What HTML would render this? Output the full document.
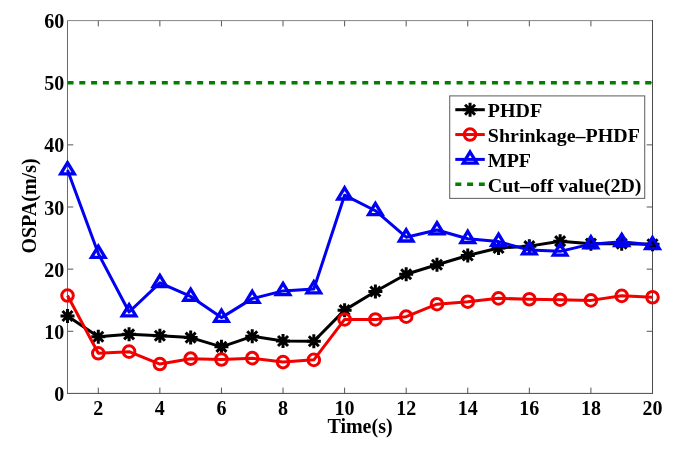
<!DOCTYPE html>
<html><head><meta charset="utf-8"><style>
html,body{margin:0;padding:0;background:#fff;}
svg{display:block;}
svg text{font-family:"Liberation Serif",serif;font-weight:bold;font-size:20px;fill:#000;}
</style></head><body>
<svg style="will-change:transform" width="685" height="452" viewBox="0 0 685 452">
<rect width="685" height="452" fill="#fff"/>
<path d="M98.29 393.4V387.60M98.29 20.6V26.40M159.87 393.4V387.60M159.87 20.6V26.40M221.45 393.4V387.60M221.45 20.6V26.40M283.03 393.4V387.60M283.03 20.6V26.40M344.61 393.4V387.60M344.61 20.6V26.40M406.18 393.4V387.60M406.18 20.6V26.40M467.76 393.4V387.60M467.76 20.6V26.40M529.34 393.4V387.60M529.34 20.6V26.40M590.92 393.4V387.60M590.92 20.6V26.40M652.50 393.4V387.60M652.50 20.6V26.40M67.5 331.27H73.3M652.5 331.27H646.7M67.5 269.13H73.3M652.5 269.13H646.7M67.5 207.00H73.3M652.5 207.00H646.7M67.5 144.87H73.3M652.5 144.87H646.7M67.5 82.73H73.3M652.5 82.73H646.7" stroke="#555555" stroke-width="1"/>
<path d="M67.5 20.6H652.5" stroke="#858585" stroke-width="1"/>
<path d="M67.5 20.6V393.4" stroke="#6a6a6a" stroke-width="1"/>
<path d="M67.0 393.4H653.0" stroke="#4a4a4a" stroke-width="1"/>
<path d="M652.5 20.1V393.4" stroke="#4a4a4a" stroke-width="1"/>
<line x1="67.5" y1="82.73" x2="652.5" y2="82.73" stroke="#007f00" stroke-width="3.6" stroke-dasharray="6 5.79"/>
<polyline points="67.50,315.98 98.29,336.73 129.08,334.37 159.87,335.74 190.66,337.60 221.45,346.86 252.24,336.30 283.03,341.02 313.82,341.21 344.61,310.14 375.39,291.50 406.18,274.23 436.97,264.78 467.76,255.46 498.55,248.01 529.34,246.14 560.13,241.17 590.92,243.66 621.71,243.66 652.50,244.28" stroke="#000" stroke-width="3.0" fill="none" stroke-linejoin="round"/>
<path d="M60.50 315.98H74.50M67.50 308.98V322.98M62.50 310.98L72.50 320.98M62.50 320.98L72.50 310.98" stroke="#000" stroke-width="3.0" fill="none"/>
<path d="M91.29 336.73H105.29M98.29 329.73V343.73M93.29 331.73L103.29 341.73M93.29 341.73L103.29 331.73" stroke="#000" stroke-width="3.0" fill="none"/>
<path d="M122.08 334.37H136.08M129.08 327.37V341.37M124.08 329.37L134.08 339.37M124.08 339.37L134.08 329.37" stroke="#000" stroke-width="3.0" fill="none"/>
<path d="M152.87 335.74H166.87M159.87 328.74V342.74M154.87 330.74L164.87 340.74M154.87 340.74L164.87 330.74" stroke="#000" stroke-width="3.0" fill="none"/>
<path d="M183.66 337.60H197.66M190.66 330.60V344.60M185.66 332.60L195.66 342.60M185.66 342.60L195.66 332.60" stroke="#000" stroke-width="3.0" fill="none"/>
<path d="M214.45 346.86H228.45M221.45 339.86V353.86M216.45 341.86L226.45 351.86M216.45 351.86L226.45 341.86" stroke="#000" stroke-width="3.0" fill="none"/>
<path d="M245.24 336.30H259.24M252.24 329.30V343.30M247.24 331.30L257.24 341.30M247.24 341.30L257.24 331.30" stroke="#000" stroke-width="3.0" fill="none"/>
<path d="M276.03 341.02H290.03M283.03 334.02V348.02M278.03 336.02L288.03 346.02M278.03 346.02L288.03 336.02" stroke="#000" stroke-width="3.0" fill="none"/>
<path d="M306.82 341.21H320.82M313.82 334.21V348.21M308.82 336.21L318.82 346.21M308.82 346.21L318.82 336.21" stroke="#000" stroke-width="3.0" fill="none"/>
<path d="M337.61 310.14H351.61M344.61 303.14V317.14M339.61 305.14L349.61 315.14M339.61 315.14L349.61 305.14" stroke="#000" stroke-width="3.0" fill="none"/>
<path d="M368.39 291.50H382.39M375.39 284.50V298.50M370.39 286.50L380.39 296.50M370.39 296.50L380.39 286.50" stroke="#000" stroke-width="3.0" fill="none"/>
<path d="M399.18 274.23H413.18M406.18 267.23V281.23M401.18 269.23L411.18 279.23M401.18 279.23L411.18 269.23" stroke="#000" stroke-width="3.0" fill="none"/>
<path d="M429.97 264.78H443.97M436.97 257.78V271.78M431.97 259.78L441.97 269.78M431.97 269.78L441.97 259.78" stroke="#000" stroke-width="3.0" fill="none"/>
<path d="M460.76 255.46H474.76M467.76 248.46V262.46M462.76 250.46L472.76 260.46M462.76 260.46L472.76 250.46" stroke="#000" stroke-width="3.0" fill="none"/>
<path d="M491.55 248.01H505.55M498.55 241.01V255.01M493.55 243.01L503.55 253.01M493.55 253.01L503.55 243.01" stroke="#000" stroke-width="3.0" fill="none"/>
<path d="M522.34 246.14H536.34M529.34 239.14V253.14M524.34 241.14L534.34 251.14M524.34 251.14L534.34 241.14" stroke="#000" stroke-width="3.0" fill="none"/>
<path d="M553.13 241.17H567.13M560.13 234.17V248.17M555.13 236.17L565.13 246.17M555.13 246.17L565.13 236.17" stroke="#000" stroke-width="3.0" fill="none"/>
<path d="M583.92 243.66H597.92M590.92 236.66V250.66M585.92 238.66L595.92 248.66M585.92 248.66L595.92 238.66" stroke="#000" stroke-width="3.0" fill="none"/>
<path d="M614.71 243.66H628.71M621.71 236.66V250.66M616.71 238.66L626.71 248.66M616.71 248.66L626.71 238.66" stroke="#000" stroke-width="3.0" fill="none"/>
<path d="M645.50 244.28H659.50M652.50 237.28V251.28M647.50 239.28L657.50 249.28M647.50 249.28L657.50 239.28" stroke="#000" stroke-width="3.0" fill="none"/>
<polyline points="67.50,295.54 98.29,353.32 129.08,351.65 159.87,364.07 190.66,358.67 221.45,359.48 252.24,358.17 283.03,362.08 313.82,359.85 344.61,319.46 375.39,319.46 406.18,316.67 436.97,304.18 467.76,301.69 498.55,298.34 529.34,299.27 560.13,299.70 590.92,300.39 621.71,295.85 652.50,297.28" stroke="#f20000" stroke-width="3.0" fill="none" stroke-linejoin="round"/>
<circle cx="67.50" cy="295.54" r="5.8" stroke="#f20000" stroke-width="3.0" fill="none"/>
<circle cx="98.29" cy="353.32" r="5.8" stroke="#f20000" stroke-width="3.0" fill="none"/>
<circle cx="129.08" cy="351.65" r="5.8" stroke="#f20000" stroke-width="3.0" fill="none"/>
<circle cx="159.87" cy="364.07" r="5.8" stroke="#f20000" stroke-width="3.0" fill="none"/>
<circle cx="190.66" cy="358.67" r="5.8" stroke="#f20000" stroke-width="3.0" fill="none"/>
<circle cx="221.45" cy="359.48" r="5.8" stroke="#f20000" stroke-width="3.0" fill="none"/>
<circle cx="252.24" cy="358.17" r="5.8" stroke="#f20000" stroke-width="3.0" fill="none"/>
<circle cx="283.03" cy="362.08" r="5.8" stroke="#f20000" stroke-width="3.0" fill="none"/>
<circle cx="313.82" cy="359.85" r="5.8" stroke="#f20000" stroke-width="3.0" fill="none"/>
<circle cx="344.61" cy="319.46" r="5.8" stroke="#f20000" stroke-width="3.0" fill="none"/>
<circle cx="375.39" cy="319.46" r="5.8" stroke="#f20000" stroke-width="3.0" fill="none"/>
<circle cx="406.18" cy="316.67" r="5.8" stroke="#f20000" stroke-width="3.0" fill="none"/>
<circle cx="436.97" cy="304.18" r="5.8" stroke="#f20000" stroke-width="3.0" fill="none"/>
<circle cx="467.76" cy="301.69" r="5.8" stroke="#f20000" stroke-width="3.0" fill="none"/>
<circle cx="498.55" cy="298.34" r="5.8" stroke="#f20000" stroke-width="3.0" fill="none"/>
<circle cx="529.34" cy="299.27" r="5.8" stroke="#f20000" stroke-width="3.0" fill="none"/>
<circle cx="560.13" cy="299.70" r="5.8" stroke="#f20000" stroke-width="3.0" fill="none"/>
<circle cx="590.92" cy="300.39" r="5.8" stroke="#f20000" stroke-width="3.0" fill="none"/>
<circle cx="621.71" cy="295.85" r="5.8" stroke="#f20000" stroke-width="3.0" fill="none"/>
<circle cx="652.50" cy="297.28" r="5.8" stroke="#f20000" stroke-width="3.0" fill="none"/>
<polyline points="67.50,170.03 98.29,253.60 129.08,312.01 159.87,282.80 190.66,296.47 221.45,317.60 252.24,298.65 283.03,290.88 313.82,289.02 344.61,195.19 375.39,210.73 406.18,237.20 436.97,229.99 467.76,238.69 498.55,241.61 529.34,250.12 560.13,251.36 590.92,244.16 621.71,241.79 652.50,244.90" stroke="#0000f2" stroke-width="3.0" fill="none" stroke-linejoin="round"/>
<path d="M67.50 162.63L74.30 173.83L60.70 173.83Z" stroke="#0000f2" stroke-width="3.3" fill="none" stroke-linejoin="miter"/>
<path d="M98.29 246.20L105.09 257.40L91.49 257.40Z" stroke="#0000f2" stroke-width="3.3" fill="none" stroke-linejoin="miter"/>
<path d="M129.08 304.61L135.88 315.81L122.28 315.81Z" stroke="#0000f2" stroke-width="3.3" fill="none" stroke-linejoin="miter"/>
<path d="M159.87 275.40L166.67 286.60L153.07 286.60Z" stroke="#0000f2" stroke-width="3.3" fill="none" stroke-linejoin="miter"/>
<path d="M190.66 289.07L197.46 300.27L183.86 300.27Z" stroke="#0000f2" stroke-width="3.3" fill="none" stroke-linejoin="miter"/>
<path d="M221.45 310.20L228.25 321.40L214.65 321.40Z" stroke="#0000f2" stroke-width="3.3" fill="none" stroke-linejoin="miter"/>
<path d="M252.24 291.25L259.04 302.45L245.44 302.45Z" stroke="#0000f2" stroke-width="3.3" fill="none" stroke-linejoin="miter"/>
<path d="M283.03 283.48L289.83 294.68L276.23 294.68Z" stroke="#0000f2" stroke-width="3.3" fill="none" stroke-linejoin="miter"/>
<path d="M313.82 281.62L320.62 292.82L307.02 292.82Z" stroke="#0000f2" stroke-width="3.3" fill="none" stroke-linejoin="miter"/>
<path d="M344.61 187.79L351.41 198.99L337.81 198.99Z" stroke="#0000f2" stroke-width="3.3" fill="none" stroke-linejoin="miter"/>
<path d="M375.39 203.33L382.19 214.53L368.59 214.53Z" stroke="#0000f2" stroke-width="3.3" fill="none" stroke-linejoin="miter"/>
<path d="M406.18 229.80L412.98 241.00L399.38 241.00Z" stroke="#0000f2" stroke-width="3.3" fill="none" stroke-linejoin="miter"/>
<path d="M436.97 222.59L443.77 233.79L430.17 233.79Z" stroke="#0000f2" stroke-width="3.3" fill="none" stroke-linejoin="miter"/>
<path d="M467.76 231.29L474.56 242.49L460.96 242.49Z" stroke="#0000f2" stroke-width="3.3" fill="none" stroke-linejoin="miter"/>
<path d="M498.55 234.21L505.35 245.41L491.75 245.41Z" stroke="#0000f2" stroke-width="3.3" fill="none" stroke-linejoin="miter"/>
<path d="M529.34 242.72L536.14 253.92L522.54 253.92Z" stroke="#0000f2" stroke-width="3.3" fill="none" stroke-linejoin="miter"/>
<path d="M560.13 243.96L566.93 255.16L553.33 255.16Z" stroke="#0000f2" stroke-width="3.3" fill="none" stroke-linejoin="miter"/>
<path d="M590.92 236.76L597.72 247.96L584.12 247.96Z" stroke="#0000f2" stroke-width="3.3" fill="none" stroke-linejoin="miter"/>
<path d="M621.71 234.39L628.51 245.59L614.91 245.59Z" stroke="#0000f2" stroke-width="3.3" fill="none" stroke-linejoin="miter"/>
<path d="M652.50 237.50L659.30 248.70L645.70 248.70Z" stroke="#0000f2" stroke-width="3.3" fill="none" stroke-linejoin="miter"/>
<text x="98.29" y="414.7" text-anchor="middle">2</text>
<text x="159.87" y="414.7" text-anchor="middle">4</text>
<text x="221.45" y="414.7" text-anchor="middle">6</text>
<text x="283.03" y="414.7" text-anchor="middle">8</text>
<text x="344.61" y="414.7" text-anchor="middle">10</text>
<text x="406.18" y="414.7" text-anchor="middle">12</text>
<text x="467.76" y="414.7" text-anchor="middle">14</text>
<text x="529.34" y="414.7" text-anchor="middle">16</text>
<text x="590.92" y="414.7" text-anchor="middle">18</text>
<text x="652.50" y="414.7" text-anchor="middle">20</text>
<text x="64.3" y="400.90" text-anchor="end">0</text>
<text x="64.3" y="338.77" text-anchor="end">10</text>
<text x="64.3" y="276.63" text-anchor="end">20</text>
<text x="64.3" y="214.50" text-anchor="end">30</text>
<text x="64.3" y="152.37" text-anchor="end">40</text>
<text x="64.3" y="90.23" text-anchor="end">50</text>
<text x="64.3" y="28.10" text-anchor="end">60</text>
<text x="360" y="432.6" text-anchor="middle">Time(s)</text>
<text transform="translate(36.4 206) rotate(-90)" text-anchor="middle">OSPA(m/s)</text>
<rect x="449.7" y="95.9" width="195.0" height="102.5" fill="#fff" stroke="#6a6a6a" stroke-width="1.1"/>
<line x1="455.3" y1="109.7" x2="484.8" y2="109.7" stroke="#000" stroke-width="3.0"/>
<path d="M463.05 109.70H477.05M470.05 102.70V116.70M465.05 104.70L475.05 114.70M465.05 114.70L475.05 104.70" stroke="#000" stroke-width="3.0" fill="none"/>
<text transform="translate(487.8 117.00) scale(1 0.94)">PHDF</text>
<line x1="455.3" y1="134.55" x2="484.8" y2="134.55" stroke="#f20000" stroke-width="3.0"/>
<circle cx="470.05" cy="134.55" r="5.8" stroke="#f20000" stroke-width="3.0" fill="none"/>
<text transform="translate(487.8 141.85) scale(1 0.94)">Shrinkage–PHDF</text>
<line x1="455.3" y1="159.4" x2="484.8" y2="159.4" stroke="#0000f2" stroke-width="3.0"/>
<path d="M470.05 152.00L476.85 163.20L463.25 163.20Z" stroke="#0000f2" stroke-width="3.3" fill="none" stroke-linejoin="miter"/>
<text transform="translate(487.8 166.70) scale(1 0.94)">MPF</text>
<line x1="455.3" y1="184.25" x2="484.8" y2="184.25" stroke="#007f00" stroke-width="3.6" stroke-dasharray="6 5.79"/>
<text transform="translate(487.8 191.55) scale(1 0.94)">Cut–off value(2D)</text>
</svg>
</body></html>
